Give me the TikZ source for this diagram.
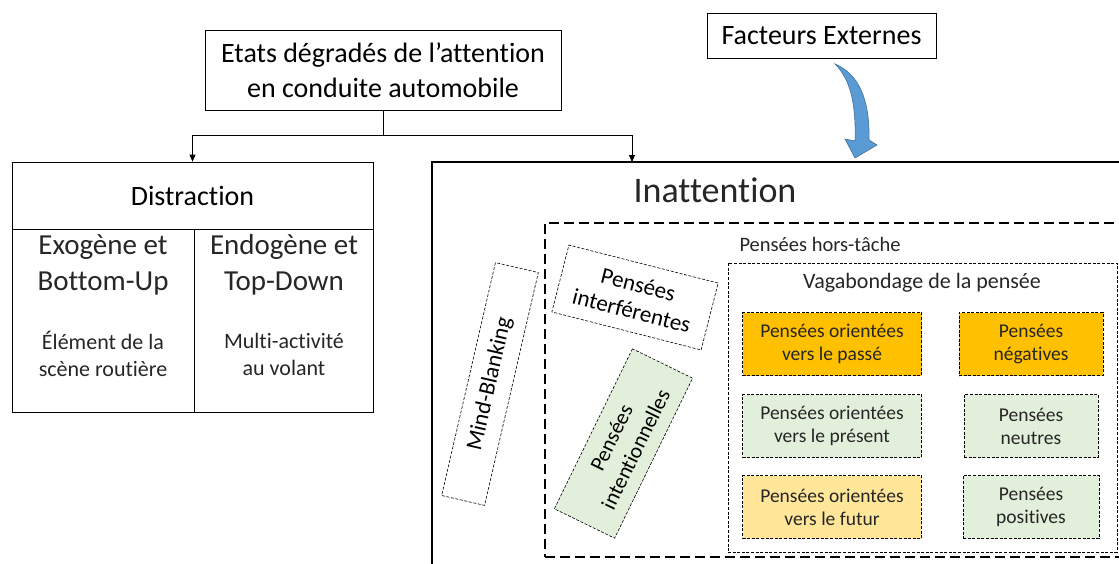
\documentclass[tikz,border=0pt]{standalone}
\usepackage{fontspec}
\setmainfont{Carlito}[RawFeature={-liga}]
\usetikzlibrary{arrows.meta,positioning}
\definecolor{orangeP}{HTML}{FFC000}
\definecolor{vertP}{HTML}{E2EFDA}
\definecolor{jauneP}{HTML}{FFE699}
\definecolor{bleuF}{HTML}{5B9BD5}
\definecolor{bleuT}{HTML}{41719C}
\newcommand{\fs}[2]{\fontsize{#1}{#2}\selectfont}

\begin{document}
\begin{tikzpicture}[x=1pt,y=-1pt,
    boite/.style={draw,line width=0.8pt,align=center,inner sep=0pt},
    pointille/.style={draw,line width=0.6pt,dash pattern=on 3pt off 1.6pt,align=center,inner sep=0pt},
    pensee/.style={pointille,minimum height=63,text=black!85,font=\fs{19.5}{23}},
    fleche/.style={-{Triangle[length=7pt,width=6pt]},line width=0.8pt},
    texte/.style={inner sep=0pt,align=center,text=black!85}]
    \useasboundingbox (0,0) rectangle (1119,563);
    \clip (0,0) rectangle (1119,563);

    \node[boite,minimum width=356,minimum height=80,font=\fs{28}{35}] (etats) at (383,70) {Etats dégradés de l’attention\\en conduite automobile};
    \node[boite,minimum width=229,minimum height=45,font=\fs{28}{30}] (facteurs) at (821.5,35.5) {Facteurs Externes};

    % distraction
    \node[boite,minimum width=361,minimum height=67,font=\fs{28}{30}] (distr) at (192.5,195.5) {Distraction};
    \node[boite,minimum width=182,minimum height=183,anchor=north west] (exo) at (distr.south west) {};
    \node[boite,minimum width=179,minimum height=183,anchor=north east] (endo) at (distr.south east) {};
    \node[texte,font=\fs{29}{36}] (exoT) at (103,265) {Exogène et\\Bottom-Up};
    \node[texte,font=\fs{22}{27}] (exoS) at (103,354) {Élément de la\\scène routière};
    \node[texte,font=\fs{29}{36}] (endoT) at (284,265) {Endogène et\\Top-Down};
    \node[texte,font=\fs{22}{27}] (endoS) at (284,354) {Multi-activité\\au volant};

    % inattention
    \node[draw,line width=1.3pt,minimum width=698,minimum height=420,inner sep=0pt] (inatt) at (781,372) {};
    \node[texte,font=\fs{36}{40}] (inattT) at (715,190) {Inattention};
    \coordinate (cible) at (632,162);

    \draw[line width=0.8pt] (etats.south) -- ++(0,25) coordinate (embr);
    \draw[fleche] (embr) -| (distr.north);
    \draw[fleche] (embr) -| (cible);

    \fill[bleuF,draw=bleuT,line width=0.6pt] (835,64) .. controls (859,74) and (870,100) .. (869,140) -- (877,145) -- (855,158) -- (845,139) -- (855,141) .. controls (856,105) and (851,80) .. (835,64) -- cycle;

    \node[draw,line width=1.1pt,dash pattern=on 10pt off 5pt,minimum width=590,minimum height=334,inner sep=0pt] (hors) at (840,390) {};
    \node[texte,font=\fs{20.5}{24}] (horsT) at (820,244) {Pensées hors-tâche};

    \node[pointille,minimum width=389,minimum height=289] (vagab) at (922.5,407.5) {};
    \node[texte,font=\fs{22}{26}] (vagabT) at (922,283) {Vagabondage de la pensée};

    \node[pensee,fill=orangeP,minimum width=179] (passe) at (832,344) {Pensées orientées\\vers le passé};
    \node[pensee,fill=vertP,minimum width=179] (present) at (832,426) {Pensées orientées\\vers le présent};
    \node[pensee,fill=jauneP,minimum width=179] (futur) at (832,507) {Pensées orientées\\vers le futur};
    \node[pensee,fill=orangeP,minimum width=144] (negat) at (1031,344) {Pensées\\négatives};
    \node[pensee,fill=vertP,minimum width=134] (neutre) at (1031,426) {Pensées\\neutres};
    \node[pensee,fill=vertP,minimum width=136] (posit) at (1031,507) {Pensées\\positives};

    \node[pointille,minimum width=239,minimum height=44,rotate=77,font=\fs{23}{26}] (blank) at (490,384) {Mind-Blanking};
    \node[pointille,minimum width=154,minimum height=69,rotate=-14.3,font=\fs{23}{27}] (interf) at (635,297.5) {Pensées\\interférentes};
    \node[pointille,fill=vertP,minimum width=178,minimum height=67,rotate=64,font=\fs{21.5}{27}] (intent) at (623.5,443.5) {Pensées\\intentionnelles};
\end{tikzpicture}
\end{document}
